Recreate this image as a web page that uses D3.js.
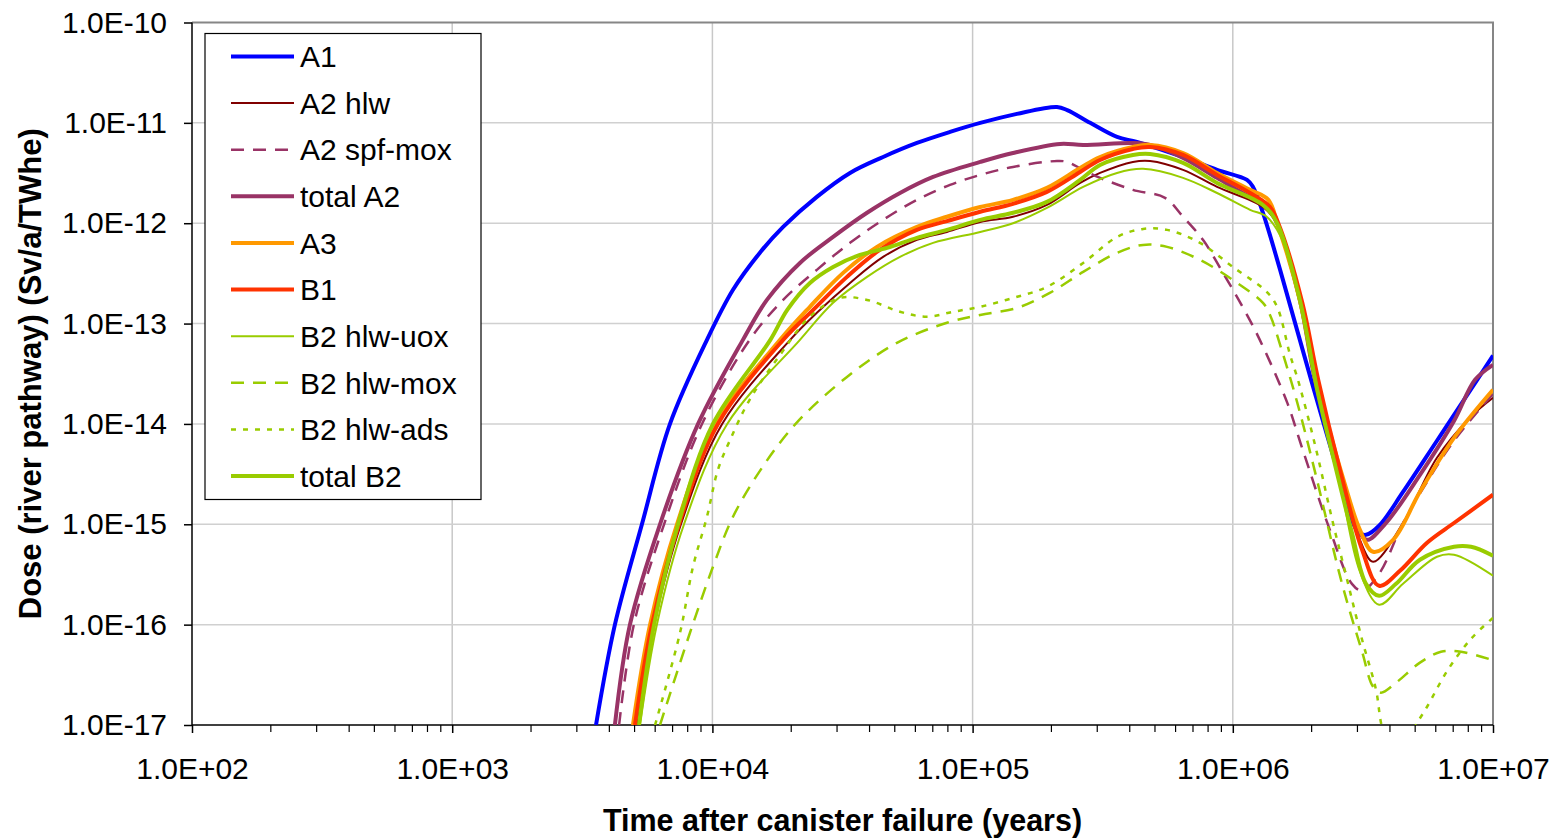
<!DOCTYPE html>
<html>
<head>
<meta charset="utf-8">
<script src="https://cdn.jsdelivr.net/npm/d3@7"></script>
<style>
  body { margin: 0; background: #fff; }
  text { font-family: "Liberation Sans", Arial, sans-serif; fill: #000; }
</style>
</head>
<body>
<div id="chart"></div>
<script>
// [time (years), dose (Sv/a/TWhe)]
const doseA1 = [[3.57e3,1e-17],[4.22e3,1e-16],[5.36e3,1e-15],[6.87e3,1e-14],[9.53e3,6.88e-14],[1.2e4,2.17e-13],[1.52e4,5.06e-13],[1.87e4,9.19e-13],[2.52e4,1.83e-12],[3.38e4,3.17e-12],[4.53e4,4.57e-12],[6.11e4,6.3e-12],[8.19e4,8.12e-12],[1.07e5,9.98e-12],[1.48e5,1.23e-11],[2.11e5,1.44e-11],[2.31e5,1.34e-11],[2.83e5,1.0e-11],[3.59e5,7.24e-12],[4.28e5,6.45e-12],[6.44e5,4.57e-12],[8.7e5,3.4e-12],[1.134e6,2.7e-12],[1.196e6,2.3e-12],[1.306e6,1.27e-12],[1.52e6,3.43e-13],[2.0e6,2.75e-14],[2.58e6,2.9e-15],[3.03e6,8.4e-16],[3.25e6,7.85e-16],[3.65e6,9.66e-16],[4.51e6,2.1e-15],[6.09e6,6.8e-15],[8.02e6,2.0e-14],[1e7,4.8e-14]];

const doseA2hlw = [[5.13e3,1e-17],[5.97e3,1e-16],[7.57e3,1e-15],[1.09e4,1e-14],[1.99e4,6.88e-14],[2.52e4,1.28e-13],[3.38e4,2.54e-13],[4.53e4,4.62e-13],[6.11e4,6.82e-13],[7.97e4,8.19e-13],[1.07e5,1.03e-12],[1.43e5,1.16e-12],[1.93e5,1.52e-12],[2.59e5,2.52e-12],[3.09e5,3.17e-12],[4.13e5,4.08e-12],[4.81e5,4.17e-12],[6.44e5,3.4e-12],[8.7e5,2.3e-12],[1.306e6,1.45e-12],[1.49e6,9.6e-13],[1.81e6,1.72e-13],[2.09e6,2.75e-14],[2.7e6,2.21e-15],[3.08e6,7.0e-16],[3.46e6,4.23e-16],[4.51e6,1.03e-15],[6.09e6,4.6e-15],[8.23e6,1.18e-14],[1e7,1.82e-14]];

const doseA2spf = [[4.38e3,1e-17],[4.99e3,1e-16],[6.52e3,1e-15],[9.12e3,1e-14],[1.39e4,6.88e-14],[1.87e4,1.72e-13],[2.52e4,3.43e-13],[3.38e4,6.37e-13],[4.53e4,1.08e-12],[6.11e4,1.71e-12],[8.19e4,2.41e-12],[1.07e5,3.03e-12],[1.43e5,3.64e-12],[2.11e5,4.17e-12],[2.31e5,4.08e-12],[2.66e5,3.4e-12],[3.09e5,2.83e-12],[4.13e5,2.15e-12],[5.49e5,1.79e-12],[6.44e5,1.16e-12],[7.68e5,6.83e-13],[9.17e5,3.2e-13],[1.09e6,1.47e-13],[1.27e6,6.88e-14],[1.62e6,1.62e-14],[1.83e6,6.19e-15],[2.36e6,8.81e-16],[2.87e6,2.55e-16],[3.14e6,2.18e-16],[3.65e6,3.21e-16],[4.51e6,1.03e-15],[5.58e6,2.65e-15],[7.08e6,6.8e-15],[1e7,2.0e-14]];

const doseA2total = [[4.22e3,1e-17],[4.82e3,1e-16],[6.29e3,1e-15],[8.81e3,1e-14],[1.31e4,6.88e-14],[1.62e4,1.72e-13],[2.17e4,4.02e-13],[2.91e4,7.3e-13],[3.93e4,1.27e-12],[5.26e4,2.0e-12],[7.05e4,2.89e-12],[1.07e5,4.08e-12],[1.43e5,5.01e-12],[2.17e5,6.17e-12],[2.66e5,6.03e-12],[4.13e5,6.3e-12],[4.81e5,6.03e-12],[6.44e5,4.47e-12],[8.7e5,2.83e-12],[1.165e6,1.83e-12],[1.306e6,1.63e-12],[1.49e6,9.6e-13],[1.81e6,1.72e-13],[2.07e6,2.75e-14],[2.7e6,2.21e-15],[3.03e6,8.81e-16],[3.28e6,7.0e-16],[3.88e6,1.03e-15],[5.24e6,3.11e-15],[7.08e6,1.07e-14],[8.53e6,2.75e-14],[1e7,3.88e-14]];

const doseA3 = [[4.95e3,1e-17],[5.76e3,1e-16],[7.31e3,1e-15],[1.03e4,1e-14],[1.82e4,6.88e-14],[2.37e4,1.47e-13],[3.18e4,3.2e-13],[4.29e4,5.81e-13],[6.11e4,9.19e-13],[7.97e4,1.16e-12],[1.07e5,1.45e-12],[1.43e5,1.71e-12],[1.93e5,2.25e-12],[2.59e5,3.55e-12],[3.09e5,4.57e-12],[4.13e5,5.75e-12],[4.81e5,6.03e-12],[6.44e5,5.01e-12],[8.7e5,3.17e-12],[1.165e6,2.15e-12],[1.37e6,1.71e-12],[1.49e6,9.6e-13],[1.81e6,1.72e-13],[2.09e6,2.75e-14],[2.7e6,2.47e-15],[3.08e6,8.81e-16],[3.46e6,5.32e-16],[4.13e6,7.0e-16],[5.24e6,2.11e-15],[7.08e6,7.27e-15],[1e7,2.19e-14]];

const doseB1 = [[5.04e3,1e-17],[5.86e3,1e-16],[7.44e3,1e-15],[1.05e4,1e-14],[1.87e4,6.88e-14],[2.44e4,1.37e-13],[3.29e4,2.92e-13],[4.4e4,5.42e-13],[6.11e4,8.58e-13],[7.97e4,1.05e-12],[1.07e5,1.3e-12],[1.43e5,1.56e-12],[1.93e5,2.05e-12],[2.59e5,3.24e-12],[3.09e5,4.27e-12],[4.13e5,5.49e-12],[4.81e5,5.75e-12],[6.44e5,4.79e-12],[8.7e5,3.03e-12],[1.165e6,2.0e-12],[1.39e6,1.45e-12],[1.52e6,8.98e-13],[1.85e6,1.61e-13],[2.13e6,2.75e-14],[2.58e6,3.49e-15],[3.14e6,5.57e-16],[3.65e6,2.44e-16],[4.39e6,3.44e-16],[5.58e6,6.55e-16],[7.08e6,1.03e-15],[1e7,1.97e-15]];

const doseB2uox = [[5.27e3,1e-17],[6.12e3,1e-16],[7.78e3,1e-15],[1.14e4,1e-14],[2.17e4,6.88e-14],[2.91e4,1.61e-13],[3.93e4,2.92e-13],[5.26e4,4.62e-13],[7.05e4,6.37e-13],[1.07e5,8.19e-13],[1.43e5,1.0e-12],[1.93e5,1.42e-12],[2.66e5,2.3e-12],[3.59e5,3.17e-12],[4.52e5,3.48e-12],[6.44e5,2.83e-12],[8.7e5,2.0e-12],[1.165e6,1.36e-12],[1.35e6,1.16e-12],[1.55e6,6.83e-13],[1.85e6,1.37e-13],[2.16e6,1.74e-14],[2.58e6,2.59e-15],[3.08e6,3.37e-16],[3.65e6,1.58e-16],[4.51e6,2.55e-16],[6.09e6,4.75e-16],[7.08e6,4.97e-16],[1e7,3.07e-16]];

const doseB2mox = [[6.29e3,1e-17],[8.2e3,8.3e-17],[1.005e4,3.77e-16],[1.2e4,1.19e-15],[1.56e4,3.74e-15],[2.11e4,1.03e-14],[3.29e4,2.94e-14],[5.12e4,6.42e-14],[7.97e4,1.02e-13],[1.07e5,1.22e-13],[1.48e5,1.43e-13],[1.98e5,2.02e-13],[2.66e5,3.27e-13],[3.59e5,5.06e-13],[4.52e5,6.08e-13],[5.59e5,5.81e-13],[7.48e5,4.31e-13],[1.0e6,2.72e-13],[1.306e6,1.61e-13],[1.39e6,1.22e-13],[1.52e6,6.14e-14],[1.77e6,1.62e-14],[2.07e6,3.33e-15],[2.63e6,2.55e-16],[3.14e6,5.37e-17],[3.46e6,2.41e-17],[3.71e6,2.1e-17],[4.24e6,2.64e-17],[5.24e6,4.18e-17],[6.31e6,5.37e-17],[7.53e6,5.37e-17],[1e7,4.42e-17]];

const doseB2ads = [[6.02e3,1e-17],[7.51e3,8.3e-17],[8.42e3,3.77e-16],[9.53e3,1.19e-15],[1.05e4,3.49e-15],[1.17e4,6.94e-15],[1.39e4,1.74e-14],[1.82e4,4.88e-14],[2.37e4,1.17e-13],[3.09e4,1.8e-13],[3.93e4,1.72e-13],[5.26e4,1.31e-13],[6.68e4,1.17e-13],[8.41e4,1.31e-13],[1.07e5,1.47e-13],[1.43e5,1.8e-13],[1.93e5,2.32e-13],[2.66e5,4.02e-13],[3.59e5,7.3e-13],[4.52e5,8.77e-13],[5.59e5,8.58e-13],[7.48e5,6.37e-13],[1.0e6,3.67e-13],[1.35e6,2.07e-13],[1.48e6,1.47e-13],[1.66e6,4.88e-14],[1.78e6,2.75e-14],[2.07e6,6.19e-15],[2.41e6,1.11e-15],[2.75e6,2.8e-16],[3.14e6,7.08e-17],[3.55e6,2.25e-17],[3.74e6,9.6e-18],[4.28e6,3.2e-18],[4.93e6,8.8e-18],[5.58e6,1.52e-17],[6.71e6,3.55e-17],[8.23e6,7.22e-17],[1e7,1.17e-16]];

const doseB2total = [[5.22e3,1e-17],[5.97e3,1e-16],[7.38e3,1e-15],[1.005e4,1e-14],[1.67e4,6.88e-14],[1.94e4,1.37e-13],[2.37e4,2.54e-13],[2.91e4,3.67e-13],[3.69e4,4.83e-13],[4.69e4,5.68e-13],[6.11e4,7.14e-13],[7.97e4,8.58e-13],[1.07e5,1.08e-12],[1.43e5,1.27e-12],[1.93e5,1.63e-12],[2.59e5,2.7e-12],[3.09e5,3.81e-12],[4.13e5,4.79e-12],[4.81e5,4.9e-12],[6.44e5,3.99e-12],[8.7e5,2.52e-12],[1.306e6,1.52e-12],[1.48e6,1.0e-12],[1.81e6,1.72e-13],[2.11e6,2.19e-14],[2.47e6,3.92e-15],[2.87e6,8.23e-16],[3.25e6,2.55e-16],[3.65e6,1.94e-16],[4.24e6,2.55e-16],[5.24e6,4.43e-16],[7.08e6,5.97e-16],[8.23e6,5.97e-16],[1e7,4.86e-16]];

const seriesNames = ["A1", "A2 hlw", "A2 spf-mox", "total A2", "A3", "B1", "B2 hlw-uox", "B2 hlw-mox", "B2 hlw-ads", "total B2"];
const seriesData = [doseA1, doseA2hlw, doseA2spf, doseA2total, doseA3, doseB1, doseB2uox, doseB2mox, doseB2ads, doseB2total];

const xTickValues = [1e2, 1e3, 1e4, 1e5, 1e6, 1e7];
const yTickValues = [1e-10, 1e-11, 1e-12, 1e-13, 1e-14, 1e-15, 1e-16, 1e-17];

// line look per series
const styles = {
  "A1":         { color: "#0000ff", width: 4, dash: null },
  "A2 hlw":     { color: "#800000", width: 2, dash: null },
  "A2 spf-mox": { color: "#993366", width: 2.5, dash: "13,9" },
  "total A2":   { color: "#993366", width: 4, dash: null },
  "A3":         { color: "#ff9900", width: 4, dash: null },
  "B1":         { color: "#ff3300", width: 4, dash: null },
  "B2 hlw-uox": { color: "#99cc00", width: 2, dash: null },
  "B2 hlw-mox": { color: "#99cc00", width: 2.5, dash: "13,9" },
  "B2 hlw-ads": { color: "#99cc00", width: 2.5, dash: "5,7" },
  "total B2":   { color: "#99cc00", width: 4, dash: null }
};

function drawChart() {
  const W = 1555, H = 840;
  const pLeft = 192, pRight = 1493, pTop = 22.5, pBottom = 725;

  const svg = d3.select("#chart").append("svg")
    .attr("width", W).attr("height", H);

  svg.append("rect").attr("width", W).attr("height", H).attr("fill", "#fff");

  const x = d3.scaleLog().domain([1e2, 1e7]).range([pLeft, pRight]);
  const y = d3.scaleLog().domain([1e-17, 1e-10]).range([pBottom, pTop]);

  const sci = v => {
    const e = Math.round(Math.log10(v));
    return "1.0E" + (e < 0 ? "-" : "+") + String(Math.abs(e)).padStart(2, "0");
  };

  // gridlines
  svg.append("g").selectAll("line")
    .data(xTickValues.slice(1, -1))
    .join("line")
    .attr("x1", d => x(d)).attr("x2", d => x(d))
    .attr("y1", pTop).attr("y2", pBottom)
    .attr("stroke", "#c8c8c8").attr("stroke-width", 1.5);

  svg.append("g").selectAll("line")
    .data(yTickValues.slice(1, -1))
    .join("line")
    .attr("x1", pLeft).attr("x2", pRight)
    .attr("y1", d => y(d)).attr("y2", d => y(d))
    .attr("stroke", "#d0d0d0").attr("stroke-width", 1.5);

  // grey frame top and right
  svg.append("path")
    .attr("d", `M${pLeft},${pTop}H${pRight}V${pBottom}`)
    .attr("fill", "none").attr("stroke", "#868686").attr("stroke-width", 2);

  // axes
  const xMinor = [];
  for (let p = 2; p < 7; p++) for (let m = 2; m <= 9; m++) xMinor.push(m * Math.pow(10, p));

  svg.append("g")
    .attr("transform", `translate(0,${pBottom})`)
    .call(d3.axisBottom(x).tickValues(xMinor).tickSize(7).tickFormat(""))
    .call(g => g.select(".domain").remove())
    .call(g => g.selectAll("line").attr("stroke", "#000").attr("stroke-width", 1.2));

  const xAxisG = svg.append("g")
    .attr("transform", `translate(0,${pBottom})`)
    .call(d3.axisBottom(x).tickValues(xTickValues).tickSize(8).tickPadding(25).tickFormat(sci));
  xAxisG.select(".domain").remove();
  xAxisG.selectAll("line").attr("stroke", "#000").attr("stroke-width", 1.5);
  xAxisG.selectAll("text").attr("font-size", 30).attr("font-family", "'Liberation Sans', Arial, sans-serif").attr("fill", "#000");

  const yAxisG = svg.append("g")
    .attr("transform", `translate(${pLeft},0)`)
    .call(d3.axisLeft(y).tickValues(yTickValues).tickSize(8).tickPadding(17).tickFormat(sci));
  yAxisG.select(".domain").remove();
  yAxisG.selectAll("line").attr("stroke", "#000").attr("stroke-width", 1.5);
  yAxisG.selectAll("text").attr("font-size", 30).attr("font-family", "'Liberation Sans', Arial, sans-serif").attr("fill", "#000");

  svg.append("line").attr("x1", pLeft).attr("x2", pLeft).attr("y1", pTop).attr("y2", pBottom)
    .attr("stroke", "#000").attr("stroke-width", 1.5);
  svg.append("line").attr("x1", pLeft).attr("x2", pRight).attr("y1", pBottom).attr("y2", pBottom)
    .attr("stroke", "#000").attr("stroke-width", 1.5);

  // axis titles
  svg.append("text")
    .attr("x", (pLeft + pRight) / 2).attr("y", 831)
    .attr("text-anchor", "middle")
    .attr("font-size", 30.5).attr("font-weight", "bold")
    .text("Time after canister failure (years)");

  svg.append("text")
    .attr("transform", `translate(41,${(pTop + pBottom) / 2}) rotate(-90)`)
    .attr("text-anchor", "middle")
    .attr("font-size", 31).attr("font-weight", "bold")
    .text("Dose (river pathway) (Sv/a/TWhe)");

  // series, clipped to the plot area
  svg.append("defs").append("clipPath").attr("id", "plot-clip")
    .append("rect").attr("x", pLeft).attr("y", pTop)
    .attr("width", pRight - pLeft).attr("height", pBottom - pTop);

  const line = d3.line()
    .x(d => x(d[0]))
    .y(d => y(d[1]))
    .curve(d3.curveCatmullRom.alpha(0.5));

  const plot = svg.append("g").attr("clip-path", "url(#plot-clip)");
  seriesNames.forEach((name, i) => {
    const s = styles[name];
    plot.append("path")
      .datum(seriesData[i])
      .attr("fill", "none")
      .attr("stroke", s.color)
      .attr("stroke-width", s.width)
      .attr("stroke-dasharray", s.dash)
      .attr("stroke-linejoin", "round")
      .attr("d", line);
  });

  // legend
  const legend = svg.append("g");
  legend.append("rect")
    .attr("x", 205).attr("y", 33.5).attr("width", 276).attr("height", 466)
    .attr("fill", "#fff").attr("stroke", "#000").attr("stroke-width", 1.2);

  seriesNames.forEach((name, i) => {
    const s = styles[name];
    const ly = 56.5 + i * 46.62;
    legend.append("line")
      .attr("x1", 231).attr("x2", 294).attr("y1", ly).attr("y2", ly)
      .attr("stroke", s.color).attr("stroke-width", s.width)
      .attr("stroke-dasharray", s.dash);
    legend.append("text")
      .attr("x", 300).attr("y", ly + 10.7)
      .attr("font-size", 30)
      .text(name);
  });
}

drawChart();
</script>
</body>
</html>
